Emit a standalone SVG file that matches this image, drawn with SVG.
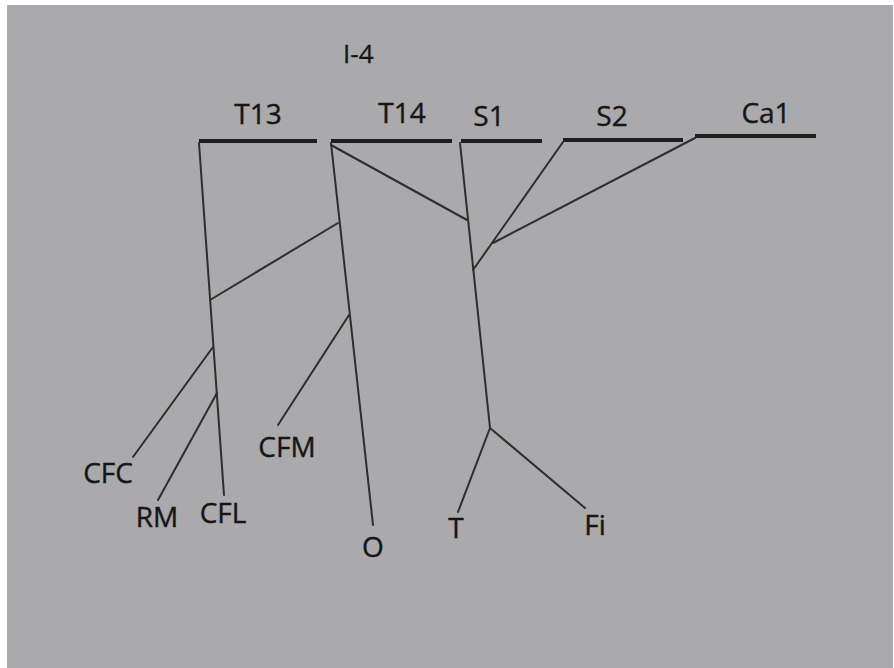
<svg xmlns="http://www.w3.org/2000/svg" width="894" height="668" viewBox="0 0 894 668">
  <style>
    .bar { stroke: #1e1e1e; stroke-width: 4; stroke-linecap: butt; }
    .ln { stroke: #2e2e2e; stroke-width: 2; fill: none; stroke-linecap: round; }
    .lbl { font-family: "Open Sans", "Liberation Sans", sans-serif; font-size: 28px; fill: #161616; stroke: #161616; stroke-width: 0.4; }
    .hdr { font-family: "Open Sans", "Liberation Sans", sans-serif; font-size: 26px; fill: #161616; stroke: #161616; stroke-width: 0.3; }
  </style>

  <!-- paper -->
  <rect x="0" y="0" width="894" height="668" fill="#ffffff"/>
  <rect x="7" y="5" width="886" height="663" fill="#aaa9ab"/>

  <text class="hdr" x="343" y="63">I-4</text>

  <!-- top segments with their labels -->
  <g id="T13">
    <line class="bar" x1="199" y1="141" x2="317" y2="141"/>
    <text class="lbl" x="258" y="124" text-anchor="middle">T13</text>
  </g>
  <g id="T14">
    <line class="bar" x1="331" y1="141" x2="452" y2="141"/>
    <text class="lbl" x="402" y="123" text-anchor="middle">T14</text>
  </g>
  <g id="S1">
    <line class="bar" x1="461" y1="141" x2="542" y2="141"/>
    <text class="lbl" x="489" y="126" text-anchor="middle">S1</text>
  </g>
  <g id="S2">
    <line class="bar" x1="563" y1="140" x2="683" y2="140"/>
    <text class="lbl" x="612" y="126" text-anchor="middle">S2</text>
  </g>
  <g id="Ca1">
    <line class="bar" x1="695" y1="136" x2="816" y2="136"/>
    <text class="lbl" x="766" y="123" text-anchor="middle">Ca1</text>
  </g>

  <!-- bottom end labels -->
  <g id="CFC"><text class="lbl" x="108" y="483" text-anchor="middle">CFC</text></g>
  <g id="RM"><text class="lbl" x="157" y="527" text-anchor="middle">RM</text></g>
  <g id="CFL"><text class="lbl" x="223" y="523" text-anchor="middle">CFL</text></g>
  <g id="CFM"><text class="lbl" x="287" y="457" text-anchor="middle">CFM</text></g>
  <g id="O"><text class="lbl" x="373" y="557" text-anchor="middle">O</text></g>
  <g id="T"><text class="lbl" x="456" y="538" text-anchor="middle">T</text></g>
  <g id="Fi"><text class="lbl" x="595" y="535" text-anchor="middle">Fi</text></g>

  <!-- connectors -->
  <g id="connectors">
    <line class="ln" x1="199" y1="143" x2="224" y2="495"/>
    <line class="ln" x1="331" y1="143" x2="373" y2="525"/>
    <line class="ln" x1="331" y1="145" x2="467" y2="220"/>
    <line class="ln" x1="460" y1="143" x2="490" y2="428"/>
    <line class="ln" x1="490" y1="428" x2="458" y2="512"/>
    <line class="ln" x1="490" y1="428" x2="585" y2="508"/>
    <line class="ln" x1="563" y1="142" x2="473" y2="270"/>
    <line class="ln" x1="695" y1="138" x2="493" y2="243"/>
    <line class="ln" x1="210" y1="300" x2="338" y2="223"/>
    <line class="ln" x1="349" y1="315" x2="278" y2="425"/>
    <line class="ln" x1="213" y1="347" x2="133" y2="457"/>
    <line class="ln" x1="217" y1="393" x2="158" y2="500"/>
  </g>
</svg>
